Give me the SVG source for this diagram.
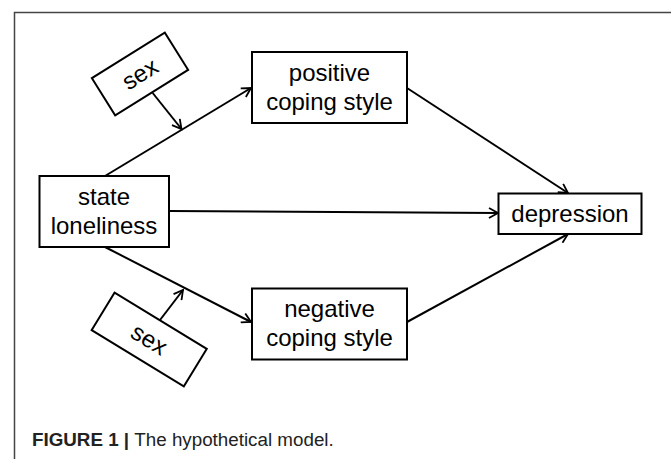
<svg xmlns="http://www.w3.org/2000/svg" width="671" height="459" viewBox="0 0 671 459">
<defs>
<marker id="arr" markerWidth="12" markerHeight="12" refX="10" refY="6" orient="auto" markerUnits="userSpaceOnUse">
<path d="M1,1 L10,6 L1,11" fill="none" stroke="#000" stroke-width="1.8"/>
</marker>
<style>
.box{fill:#fff;stroke:#000;stroke-width:2}
.lbl{font-family:"Liberation Sans",Arial,sans-serif;font-size:24px;fill:#000;text-anchor:middle}
.ln{stroke:#000;stroke-width:2;fill:none;marker-end:url(#arr)}
.cap{font-family:"Liberation Sans",Arial,sans-serif;font-size:18.8px;fill:#222}
</style>
</defs>
<rect width="671" height="459" fill="#fff"/>
<g id="frame">
<path d="M14.5,459 V12.5 H671" fill="none" stroke="#444" stroke-width="1.5"/>
</g>
<g id="connectors">
<line class="ln" x1="105" y1="176" x2="251" y2="88"/>
<line class="ln" x1="105" y1="247" x2="251" y2="322"/>
<line class="ln" x1="169" y1="211" x2="498" y2="213"/>
<line class="ln" x1="407" y1="88" x2="568" y2="193"/>
<line class="ln" x1="407" y1="322" x2="568" y2="234"/>
<line class="ln" x1="152.7" y1="93" x2="181.5" y2="129"/>
<line class="ln" x1="160" y1="320" x2="183" y2="290"/>
</g>
<g id="sex1" transform="translate(140,74) rotate(-32)">
<rect class="box" x="-43" y="-22" width="86" height="44"/>
<text class="lbl" x="0" y="8">sex</text>
</g>
<g id="sex2" transform="translate(149.2,339.5) rotate(31.4)">
<rect class="box" x="-54" y="-22" width="108" height="44"/>
<text class="lbl" x="0" y="8">sex</text>
</g>
<g id="positive">
<rect class="box" x="252" y="52" width="155" height="71"/>
<text class="lbl" x="329.5" y="81">positive</text>
<text class="lbl" x="329.5" y="110">coping style</text>
</g>
<g id="negative">
<rect class="box" x="252" y="288.5" width="155" height="71"/>
<text class="lbl" x="329.5" y="317">negative</text>
<text class="lbl" x="329.5" y="346">coping style</text>
</g>
<g id="loneliness">
<rect class="box" x="39.5" y="176" width="129.5" height="71"/>
<text class="lbl" x="104" y="205">state</text>
<text class="lbl" x="104" y="234">loneliness</text>
</g>
<g id="depression">
<rect class="box" x="498.5" y="193.5" width="143" height="40.5"/>
<text class="lbl" x="570" y="222">depression</text>
</g>
<text class="cap" x="32" y="446"><tspan font-weight="bold">FIGURE 1 | </tspan>The hypothetical model.</text>
</svg>
